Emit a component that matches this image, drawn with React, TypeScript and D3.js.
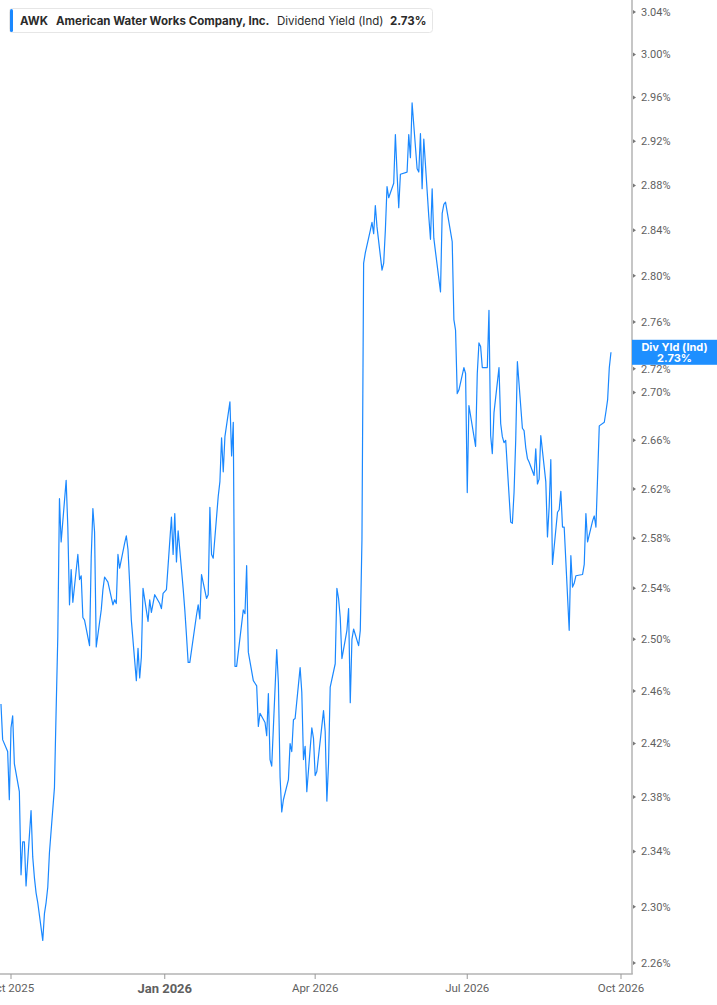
import * as d3 from "d3";
import React, { useEffect, useRef } from "react";

// AWK dividend yield (indicated), one value per trading day from startDate
const startDate = "2025-09-25";
const marketHolidays = [
  "2025-11-27", "2025-12-25", "2026-01-01", "2026-01-19", "2026-02-16",
  "2026-04-03", "2026-05-25", "2026-06-19", "2026-07-03", "2026-09-07",
];
const divYield = [
  2.450, 2.423, 2.414, 2.378, 2.432, 2.441, 2.405, 2.384, 2.323, 2.347,
  2.347, 2.315, 2.370, 2.336, 2.321, 2.310, 2.303, 2.276, 2.295, 2.303,
  2.314, 2.339, 2.387, 2.445, 2.502, 2.612, 2.577, 2.627, 2.589, 2.527,
  2.555, 2.529, 2.567, 2.547, 2.550, 2.517, 2.515, 2.495, 2.565, 2.604,
  2.585, 2.494, 2.523, 2.539, 2.549, 2.545, 2.527, 2.531, 2.528, 2.567,
  2.556, 2.576, 2.582, 2.571, 2.544, 2.515, 2.468, 2.493, 2.470, 2.486,
  2.540, 2.514, 2.531, 2.521, 2.535, 2.528, 2.524, 2.536, 2.539, 2.597,
  2.567, 2.600, 2.561, 2.586, 2.540, 2.523, 2.503, 2.482, 2.482, 2.519,
  2.527, 2.516, 2.551, 2.532, 2.535, 2.605, 2.567, 2.564, 2.614, 2.626,
  2.662, 2.634, 2.663, 2.692, 2.647, 2.675, 2.479, 2.479, 2.523, 2.520,
  2.558, 2.490, 2.468, 2.466, 2.464, 2.433, 2.443, 2.436, 2.426, 2.458,
  2.408, 2.403, 2.492, 2.466, 2.395, 2.369, 2.378, 2.393, 2.420, 2.414,
  2.438, 2.439, 2.478, 2.459, 2.408, 2.418, 2.384, 2.432, 2.424, 2.396,
  2.399, 2.445, 2.429, 2.377, 2.405, 2.463, 2.481, 2.540, 2.532, 2.517,
  2.485, 2.507, 2.524, 2.451, 2.500, 2.508, 2.495, 2.507, 2.579, 2.811,
  2.820, 2.840, 2.847, 2.837, 2.862, 2.843, 2.805, 2.811, 2.840, 2.879,
  2.869, 2.882, 2.926, 2.891, 2.860, 2.890, 2.892, 2.926, 2.905, 2.955,
  2.895, 2.892, 2.927, 2.877, 2.922, 2.852, 2.832, 2.877, 2.833, 2.821,
  2.786, 2.855, 2.863, 2.865, 2.830, 2.762, 2.753, 2.699, 2.702, 2.721,
  2.716, 2.617, 2.689, 2.655, 2.716, 2.742, 2.739, 2.721, 2.721, 2.770,
  2.664, 2.649, 2.683, 2.721, 2.674, 2.663, 2.658, 2.660, 2.593, 2.592,
  2.617, 2.660, 2.726, 2.670, 2.668, 2.654, 2.645, 2.642, 2.631, 2.653,
  2.624, 2.628, 2.664, 2.626, 2.581, 2.605, 2.644, 2.559, 2.601, 2.603,
  2.618, 2.589, 2.589, 2.507, 2.566, 2.541, 2.544, 2.550, 2.551, 2.559,
  2.600, 2.577, 2.594, 2.598, 2.589, 2.630, 2.672, 2.675, 2.684, 2.694,
  2.721, 2.734,
];

const yTicks = [
  3.04, 3.0, 2.96, 2.92, 2.88, 2.84, 2.8, 2.76, 2.72, 2.7, 2.66,
  2.62, 2.58, 2.54, 2.5, 2.46, 2.42, 2.38, 2.34, 2.3, 2.26,
];
const xTicks = ["2025-10-01", "2026-01-01", "2026-04-01", "2026-07-01", "2026-10-01"];
const xTickLabels = ["Oct 2025", "Jan 2026", "Apr 2026", "Jul 2026", "Oct 2026"];

const LINE_COLOR = "#1a88ff";

export default function App() {
  const chartRef = useRef<SVGSVGElement | null>(null);

  useEffect(() => {
    if (!chartRef.current) return;
    const width = 717;
    const axisX = 632; // right axis position
    const axisY = 974; // bottom axis position

    const parse = d3.timeParse("%Y-%m-%d");
    const holidaySet = new Set(marketHolidays);
    const fmt = d3.timeFormat("%Y-%m-%d");

    // trading days: weekdays that are not market holidays
    const dates: Date[] = [];
    let day = parse(startDate)!;
    while (dates.length < divYield.length) {
      const wd = day.getDay();
      if (wd !== 0 && wd !== 6 && !holidaySet.has(fmt(day))) dates.push(day);
      day = d3.timeDay.offset(day, 1);
    }
    const data = dates.map((d, i) => ({ date: d, value: divYield[i] }));

    const x = d3.scaleTime()
      .domain([parse(xTicks[0])!, parse(xTicks[xTicks.length - 1])!])
      .range([11, 621]);
    const y = d3.scaleLog().domain([2.26, 3.04]).range([963, 12]);

    const svg = d3.select(chartRef.current);
    svg.selectAll("*").remove();

    svg.append("defs").append("clipPath").attr("id", "plot-clip")
      .append("rect").attr("x", 0).attr("y", 0).attr("width", axisX).attr("height", axisY);

    // line
    const line = d3.line<{ date: Date; value: number }>()
      .x(d => x(d.date))
      .y(d => y(d.value));

    svg.append("path")
      .datum(data)
      .attr("clip-path", "url(#plot-clip)")
      .attr("fill", "none")
      .attr("stroke", LINE_COLOR)
      .attr("stroke-width", 1.2)
      .attr("stroke-linejoin", "round")
      .attr("d", line);

    // axes lines
    svg.append("line")
      .attr("x1", axisX).attr("x2", axisX).attr("y1", 0).attr("y2", axisY)
      .attr("stroke", "#b3b3b3").attr("stroke-width", 1.5);
    svg.append("line")
      .attr("x1", 0).attr("x2", axisX + 0.75).attr("y1", axisY).attr("y2", axisY)
      .attr("stroke", "#b3b3b3").attr("stroke-width", 1.5);

    // right axis ticks
    const yt = svg.append("g");
    yt.selectAll("path")
      .data(yTicks)
      .join("path")
      .attr("d", d => `M${axisX + 1},${y(d) - 2}L${axisX + 4},${y(d)}L${axisX + 1},${y(d) + 2}Z`)
      .attr("fill", "#777");
    yt.selectAll("text")
      .data(yTicks)
      .join("text")
      .attr("x", axisX + 9)
      .attr("y", d => y(d))
      .attr("dy", "0.35em")
      .attr("fill", "#5f5f5f")
      .style("font-family", "Roboto, 'Noto Sans', sans-serif")
      .style("font-size", "11px")
      .text(d => `${d.toFixed(2)}%`);

    // bottom axis ticks
    const xt = svg.append("g");
    xt.selectAll("line")
      .data(xTicks)
      .join("line")
      .attr("x1", d => x(parse(d)!)).attr("x2", d => x(parse(d)!))
      .attr("y1", axisY).attr("y2", axisY + 5)
      .attr("stroke", "#999").attr("stroke-width", 1);
    xt.selectAll("text")
      .data(xTicks)
      .join("text")
      .attr("x", d => x(parse(d)!))
      .attr("y", 988)
      .attr("dy", "0.35em")
      .attr("text-anchor", "middle")
      .attr("fill", "#5f5f5f")
      .style("font-family", "Roboto, 'Noto Sans', sans-serif")
      .style("font-size", (_, i) => (xTickLabels[i].startsWith("Jan") ? "13px" : "11.5px"))
      .style("font-weight", (_, i) => (xTickLabels[i].startsWith("Jan") ? "700" : "400"))
      .text((_, i) => xTickLabels[i]);

    // last value marker on the right axis
    const last = data[data.length - 1];
    const tag = svg.append("g").attr("transform", `translate(${axisX},${y(last.value) - 12.5})`);
    tag.append("rect")
      .attr("width", width - axisX).attr("height", 25)
      .attr("fill", "#1e8fff");
    tag.append("text")
      .attr("x", (width - axisX) / 2).attr("y", 7.5)
      .attr("dy", "0.35em").attr("text-anchor", "middle")
      .attr("fill", "#fff")
      .style("font-family", "Inter, 'Noto Sans', sans-serif")
      .style("font-size", "11px").style("font-weight", "700")
      .text("Div Yld (Ind)");
    tag.append("text")
      .attr("x", (width - axisX) / 2).attr("y", 18.5)
      .attr("dy", "0.35em").attr("text-anchor", "middle")
      .attr("fill", "#fff")
      .style("font-family", "Inter, 'Noto Sans', sans-serif")
      .style("font-size", "11px").style("font-weight", "700")
      .text(`${last.value.toFixed(2)}%`);

    // legend
    const legend = svg.append("g");
    legend.append("rect")
      .attr("x", 9.5).attr("y", 8.5).attr("width", 423).attr("height", 24)
      .attr("rx", 3)
      .attr("fill", "#fff").attr("stroke", "#e6e6e6");
    legend.append("rect")
      .attr("x", 10).attr("y", 9).attr("width", 3).attr("height", 23)
      .attr("rx", 1.5)
      .attr("fill", LINE_COLOR);
    const lt = legend.append("text")
      .attr("y", 21).attr("dy", "0.35em")
      .attr("fill", "#2b2b2b")
      .style("font-family", "Inter, 'Noto Sans', sans-serif")
      .style("font-size", "11.5px");
    lt.append("tspan").attr("x", 20).style("font-weight", "700").text("AWK");
    lt.append("tspan").attr("x", 56).style("font-weight", "700").text("American Water Works Company, Inc.");
    lt.append("tspan").attr("x", 277).style("font-weight", "400").text("Dividend Yield (Ind)");
    lt.append("tspan").attr("x", 390).style("font-weight", "700").text(`${last.value.toFixed(2)}%`);
  }, []);

  return (
    <svg
      ref={chartRef}
      width={717}
      height={1005}
      style={{ position: "absolute", left: 0, top: 0, background: "#fff" }}
    ></svg>
  );
}
